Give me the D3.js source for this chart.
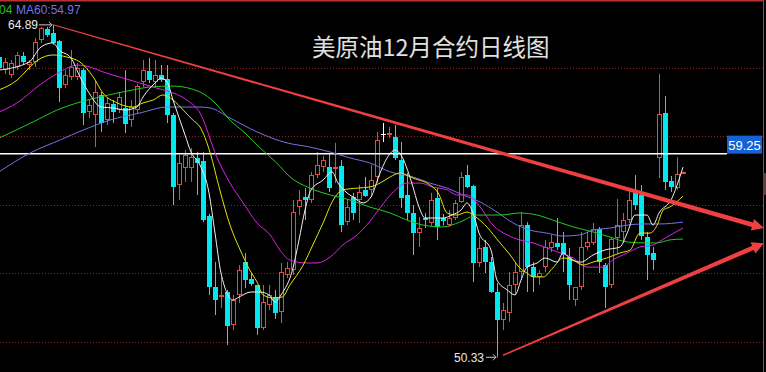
<!DOCTYPE html>
<html>
<head>
<meta charset="utf-8">
<script src="https://cdn.jsdelivr.net/npm/d3@7"></script>
<style>
html, body { margin: 0; padding: 0; background: #000; overflow: hidden; }
</style>
</head>
<body>
<script>
// daily OHLC, one value per candle (left to right)
var open = [63.48,62.91,62.69,63.04,63.53,63.13,63.26,64.23,64.71,64.53,
  64.18,62.26,62.61,62.61,62.91,61.07,60.94,61.82,60.72,61.42,
  61.16,61.25,60.72,61.16,62.39,62.87,62.39,62.69,62.52,60.94,
  57.88,58.62,58.62,59.06,58.93,56.52,53.41,52.97,53.19,51.74,
  53.06,54.50,53.76,53.50,51.61,52.62,52.97,52.31,53.93,54.15,
  56.91,57.35,57.22,58.31,58.66,58.66,58.58,58.71,56.25,57.35,
  57.22,57.66,57.66,58.23,60.11,60.07,59.98,58.97,57.44,56.65,
  55.77,56.43,56.21,57.31,56.43,56.12,56.43,57.13,58.31,57.83,
  54.46,55.16,54.50,53.19,51.96,52.27,53.50,54.06,56.12,54.28,
  53.85,54.28,55.12,55.34,55.34,54.72,52.84,53.41,55.16,55.34,
  55.95,54.37,53.50,55.55,55.82,56.34,57.53,57.44,55.60,54.90,
  59.06,61.03,58.05,57.74,58.40];
var high = [63.61,63.44,63.35,63.70,63.70,63.35,64.31,64.80,64.80,64.89,
  64.23,62.91,63.79,63.22,63.00,61.60,62.47,61.95,61.73,61.60,
  61.91,62.91,61.60,62.30,63.35,63.44,63.35,63.13,63.13,61.03,
  59.19,59.41,59.50,59.32,59.32,56.61,54.50,53.85,53.28,53.06,
  54.37,54.90,54.02,53.50,53.50,53.50,53.28,54.46,54.50,57.22,
  57.66,57.74,58.45,59.32,59.15,59.28,59.72,58.97,57.22,57.53,
  57.88,58.23,58.75,60.20,60.59,60.42,60.50,59.76,58.40,57.00,
  56.47,56.65,57.53,57.74,56.60,56.78,57.22,58.45,58.75,57.88,
  55.60,55.47,54.72,53.58,52.71,54.06,54.46,56.69,56.25,54.50,
  54.15,55.47,55.69,56.43,55.82,55.12,53.41,55.82,55.82,56.21,
  56.04,54.46,55.60,57.26,56.65,57.74,58.31,57.88,55.82,55.16,
  62.74,61.77,58.27,59.10,58.47];
var low = [62.83,62.74,62.56,62.91,63.13,62.91,63.04,64.10,64.36,64.01,
  61.51,62.12,62.47,62.47,60.50,60.81,59.54,60.20,60.50,60.59,
  61.03,60.15,60.42,60.99,62.17,62.34,62.17,62.39,60.59,57.00,
  57.22,58.01,58.01,57.44,56.25,53.06,52.18,52.49,50.87,51.52,
  52.71,53.36,53.45,51.31,51.52,52.40,52.01,51.83,53.80,53.93,
  56.56,56.34,57.09,58.18,58.45,57.57,57.96,55.82,56.12,56.34,
  56.21,57.35,57.35,57.96,59.76,59.93,58.97,56.87,56.34,54.81,
  55.16,55.99,56.04,55.47,56.10,56.04,56.34,57.09,57.74,53.63,
  54.28,54.02,53.15,50.33,51.52,51.88,53.06,53.71,53.19,53.19,
  53.50,54.06,54.94,55.03,54.06,52.84,52.58,53.28,55.03,55.25,
  54.02,52.49,53.36,54.90,55.34,56.21,56.78,55.47,53.71,54.15,
  58.18,57.66,57.57,57.66,58.38];
var close = [63.00,63.26,63.22,63.57,63.26,63.26,64.14,64.75,64.45,64.10,
  62.12,62.69,63.04,63.00,61.03,61.38,61.95,60.59,61.47,61.07,
  61.73,60.55,61.29,62.21,62.91,62.47,62.69,62.47,60.94,57.79,
  58.84,59.19,59.10,58.84,56.34,53.41,52.84,53.06,51.70,52.84,
  54.15,53.71,53.54,51.61,52.75,53.06,52.27,54.06,54.24,56.69,
  57.22,57.22,58.31,58.75,58.97,57.74,58.66,56.12,56.91,56.65,
  57.57,57.39,58.09,59.85,60.11,60.15,59.06,57.31,56.65,55.77,
  55.99,56.34,57.22,56.04,56.30,56.43,57.09,58.23,57.79,54.46,
  55.12,54.50,53.19,51.96,52.40,53.50,54.06,56.12,54.28,53.85,
  54.02,55.16,55.38,55.16,54.81,53.50,53.41,55.16,55.38,55.95,
  54.50,53.41,55.51,56.12,56.34,57.22,57.00,55.64,54.81,54.59,
  60.99,58.01,57.79,58.36,58.45];

// moving averages: [candle index, price]
var ma5 = [[0,62.91],[5,63.26],[7,63.92],[9,64.10],[10,63.79],[12,63.44],[13.5,62.61],[15,61.91],
  [17,61.29],[19,61.25],[21,61.16],[23,61.29],[24,61.73],[26,62.34],[27,62.56],[28,62.39],[29,61.60],
  [31,60.07],[32,59.32],[33.5,58.75],[35,57.53],[36,55.77],[37,54.02],[39,52.84],[40,52.97],[42,53.19],
  [43.5,53.19],[45,53.06],[46,52.75],[47,53.06],[49,54.24],[50,55.47],[51,56.78],[52,57.66],[54,58.09],
  [55.5,58.45],[56.5,57.96],[58,57.53],[59,57.35],[60.7,57.09],[62,57.35],[63.5,58.40],[65,59.19],
  [66,59.41],[67,59.19],[68.8,57.96],[70,56.91],[71,56.43],[72,56.43],[74,56.43],[75.5,56.56],[77,56.78],
  [78,57.09],[79,56.65],[80,55.77],[82,55.03],[83,53.71],[84.7,53.28],[86,53.06],[87,53.71],[88,54.28],
  [89.7,54.46],[91,54.68],[93,54.50],[94,54.90],[95.5,54.59],[97,54.50],[99,54.81],[101,55.03],
  [103.5,55.16],[104.7,55.77],[106,56.56],[108,56.56],[109,56.12],[110,56.65],[112,57.22],[114,58.66]];
var ma10 = [[0,62.04],[3,62.47],[5,63.00],[6.5,63.35],[9,63.57],[11.3,63.48],[13.5,63.26],[15.7,62.61],
  [17.3,61.91],[19.7,61.47],[22.3,61.29],[24,61.47],[25.7,61.60],[27.3,61.82],[29,61.60],[30.7,61.16],
  [32.3,60.72],[33.5,60.42],[35.2,59.28],[36.8,57.66],[38.5,56.12],[40.2,55.03],[41.8,54.15],[43,53.63],
  [44,53.06],[45.7,52.93],[47.2,52.97],[48.5,53.50],[50.7,54.37],[52.3,55.25],[54,56.21],[55.7,57.22],
  [57.3,57.66],[59.7,57.74],[61.8,57.79],[63.5,57.96],[65.2,58.23],[66.8,58.40],[69,58.18],[71.8,57.88],
  [73.2,57.53],[74.7,56.65],[76.3,56.56],[78,56.69],[79.7,56.43],[81.3,56.04],[83.5,55.34],[85.2,54.81],
  [86.8,54.24],[88,54.02],[89,53.85],[90.7,53.85],[92.3,54.24],[94,54.68],[95.7,54.59],[97.3,54.37],
  [99,54.50],[101.3,54.68],[103.5,54.90],[105.2,55.03],[106.8,55.77],[108.5,55.77],[109.7,56.12],
  [110.7,56.78],[111.8,56.91],[114,57.39]];
var ma20 = [[0,61.07],[3,61.47],[6.8,62.26],[10.2,62.83],[13,63.13],[15.2,63.04],[17.3,62.83],[20.7,62.56],
  [23.5,62.34],[26.3,62.12],[29,61.91],[31.3,61.60],[33.5,61.03],[36.3,59.10],[38.5,57.96],[40.7,57.09],
  [43,56.21],[45.2,55.69],[46.8,55.03],[48.5,54.59],[51.3,54.46],[53,54.46],[55.2,54.72],[57.3,55.25],
  [59.7,55.69],[61.3,56.12],[63.5,56.87],[65.7,57.57],[68,57.96],[70.2,57.96],[72.3,57.79],[74.7,57.66],
  [76.3,57.44],[78,57.44],[80.2,56.91],[82.3,56.12],[84.7,55.69],[86.8,55.47],[89,55.34],[91.3,55.12],
  [93.5,54.90],[95.7,54.68],[98,54.28],[100.7,54.28],[102.3,54.59],[104.7,54.90],[106.8,55.16],
  [109,55.25],[111.3,55.60],[114,55.99]];
var ma30 = [[0,59.93],[5.7,60.64],[9.7,61.16],[13.5,61.51],[16.8,61.73],[22.3,62.04],[25.2,62.17],
  [29,62.21],[33.5,61.95],[36,61.47],[38.5,60.72],[41,60.15],[43.5,59.50],[46.3,58.84],[48.5,58.23],
  [51.8,57.74],[55.2,57.44],[58.5,57.22],[61.8,56.91],[65.2,56.65],[68,56.34],[70.7,56.12],[74,56.04],
  [76.8,56.25],[79.7,56.56],[83.5,56.56],[86.8,56.65],[89.7,56.56],[92.3,56.34],[95.7,56.04],[99,55.82],
  [101.8,55.60],[104.7,55.38],[107.3,55.34],[109.7,55.34],[111.8,55.47],[114,55.51]];
var ma60 = [[0,58.45],[5.2,59.28],[10.2,59.85],[14,60.28],[18.5,60.72],[23.5,61.03],[28,61.29],
  [33.5,61.29],[35.2,61.25],[38.5,60.81],[43,60.20],[48,59.72],[51.8,59.54],[55.2,59.32],[58.5,59.06],
  [61.8,58.84],[65.2,58.45],[69,58.23],[71.8,57.96],[74.7,57.74],[77.3,57.44],[80.2,57.13],[83,56.69],
  [85.7,56.21],[88.5,55.90],[91.3,55.77],[94,55.64],[96.8,55.69],[99,55.90],[101.8,55.99],[104.7,56.12],
  [107.3,56.17],[110.2,56.17],[114,56.25]];

var gridPrices = [51, 54, 57, 60, 63];
var linePrice = 59.25;
var highMark = [9, 64.89];
var lowMark = [83, 50.33];
// hand drawn arrows: [index, price] start and end
var trendFrom = [[9, 64.89], [84, 50.42]];
var trendTo = [[127.5, 55.99], [127.5, 55.33]];
var title = "美原油12月合约日线图";

var width = 766, height = 372;
var upColor = "#e64a3c", downColor = "#00e8f0";

var svg = d3.select("body").append("svg")
    .attr("width", width)
    .attr("height", height)
    .style("display", "block");

svg.append("rect").attr("width", width).attr("height", height).attr("fill", "#000");

var xscale = d3.scaleLinear().domain([0, 114]).range([-1, 683]);
var yscale = d3.scaleLinear().domain([51, 63]).range([342, 68]);

// dotted grid
svg.append("g").selectAll("line")
    .data(gridPrices)
    .join("line")
    .attr("x1", 0).attr("x2", 763)
    .attr("y1", function(d) { return Math.floor(yscale(d)) + 0.5; })
    .attr("y2", function(d) { return Math.floor(yscale(d)) + 0.5; })
    .attr("stroke", "#8a2020")
    .attr("stroke-dasharray", "1,2");

// frame
svg.append("rect").attr("x", 0).attr("y", 0).attr("width", 763).attr("height", 1.5).attr("fill", "#b83232");
svg.append("line").attr("x1", 763.5).attr("x2", 763.5).attr("y1", 0).attr("y2", height)
    .attr("stroke", "#c83232");
svg.append("rect").attr("x", 763).attr("y", 173).attr("width", 3).attr("height", 22).attr("fill", "#5a4040");

// candles
var idx = d3.range(open.length);
var candles = svg.append("g");
idx.forEach(function(i) {
    var cx = xscale(i);
    var up = close[i] > open[i], flat = close[i] === open[i];
    var col = flat ? "#ffffff" : (up ? upColor : downColor);
    candles.append("line")
        .attr("x1", cx + 0.5).attr("x2", cx + 0.5)
        .attr("y1", yscale(high[i])).attr("y2", yscale(low[i]))
        .attr("stroke", col);
    var top = Math.round(yscale(Math.max(open[i], close[i])));
    var bot = Math.round(yscale(Math.min(open[i], close[i])));
    if (flat) {
        candles.append("line")
            .attr("x1", cx - 2).attr("x2", cx + 3)
            .attr("y1", top + 0.5).attr("y2", top + 0.5)
            .attr("stroke", col);
    } else if (up) {
        candles.append("rect")
            .attr("x", cx - 1.5).attr("y", top + 0.5)
            .attr("width", 4).attr("height", Math.max(bot - top - 1, 1))
            .attr("fill", "#000").attr("stroke", col);
    } else {
        candles.append("rect")
            .attr("x", cx - 2).attr("y", top)
            .attr("width", 5).attr("height", Math.max(bot - top, 1))
            .attr("fill", col);
    }
});

// 59.25 horizontal line
svg.append("line")
    .attr("x1", 0).attr("x2", 727)
    .attr("y1", yscale(linePrice)).attr("y2", yscale(linePrice))
    .attr("stroke", "#ffffff").attr("stroke-width", 1.5);
svg.append("rect")
    .attr("x", 727).attr("y", yscale(linePrice) - 18)
    .attr("width", 35).attr("height", 18)
    .attr("fill", "#1462d6");
svg.append("text")
    .attr("x", 744.5).attr("y", yscale(linePrice) - 4)
    .attr("text-anchor", "middle")
    .attr("font-family", "'Liberation Sans', Arial, sans-serif")
    .attr("font-size", 13)
    .attr("fill", "#ffffff")
    .text(linePrice.toFixed(2));

// moving averages
var maLine = d3.line()
    .x(function(d) { return xscale(d[0]); })
    .y(function(d) { return yscale(d[1]); })
    .curve(d3.curveMonotoneX);
var maSeries = [
    {data: ma60, color: "#7474e6"},
    {data: ma30, color: "#22cc22"},
    {data: ma20, color: "#e020e0"},
    {data: ma10, color: "#e6e600"},
    {data: ma5, color: "#f2f2f2"}
];
svg.append("g").selectAll("path")
    .data(maSeries)
    .join("path")
    .attr("d", function(d) { return maLine(d.data); })
    .attr("fill", "none")
    .attr("stroke", function(d) { return d.color; })
    .attr("stroke-width", 1);

// tapered arrows
function arrowPath(from, to, w0, w1) {
    var x0 = xscale(from[0]), y0 = yscale(from[1]);
    var x1 = xscale(to[0]), y1 = yscale(to[1]);
    var dx = x1 - x0, dy = y1 - y0, len = Math.hypot(dx, dy);
    var ux = dx / len, uy = dy / len, nx = -uy, ny = ux;
    var head = 12, hw = 6;
    var bx = x1 - ux * head, by = y1 - uy * head;
    var pts = [
        [x0 + nx * w0, y0 + ny * w0], [bx + nx * w1, by + ny * w1], [bx + nx * hw, by + ny * hw],
        [x1, y1],
        [bx - nx * hw, by - ny * hw], [bx - nx * w1, by - ny * w1], [x0 - nx * w0, y0 - ny * w0]
    ];
    return "M" + pts.join("L") + "Z";
}
svg.append("g").selectAll("path")
    .data(d3.range(trendFrom.length))
    .join("path")
    .attr("d", function(k) { return arrowPath(trendFrom[k], trendTo[k], k === 0 ? 0.5 : 0.7, 2.3); })
    .attr("fill", "#ee4040");

// high / low marks
var labelFont = "'Liberation Sans', Arial, sans-serif";
function mark(m, textEnd, arrowStart, arrowEnd) {
    var y = yscale(m[1]);
    svg.append("text")
        .attr("x", textEnd).attr("y", y + 4.5)
        .attr("text-anchor", "end")
        .attr("font-family", labelFont).attr("font-size", 12)
        .attr("fill", "#e8e8e8")
        .text(m[1].toFixed(2));
    svg.append("path")
        .attr("d", "M" + arrowStart + "," + y + "H" + arrowEnd +
            "M" + (arrowEnd - 3) + "," + (y - 3) + "L" + arrowEnd + "," + y + "L" + (arrowEnd - 3) + "," + (y + 3))
        .attr("fill", "none").attr("stroke", "#c8c8c8");
}
mark(highMark, xscale(highMark[0]) - 15, xscale(highMark[0]) - 14, xscale(highMark[0]) - 1);
mark(lowMark, xscale(lowMark[0]) - 13, xscale(lowMark[0]) - 11, xscale(lowMark[0]) - 1);

// header
svg.append("text")
    .attr("x", -1).attr("y", 14)
    .attr("font-family", labelFont).attr("font-size", 12)
    .attr("fill", "#22c022")
    .text("04");
svg.append("text")
    .attr("x", 16).attr("y", 14)
    .attr("font-family", labelFont).attr("font-size", 12)
    .attr("fill", "#7474e6")
    .text("MA60:54.97");

// title
svg.append("text")
    .attr("x", 312).attr("y", 56)
    .attr("font-family", "'Noto Sans CJK SC', sans-serif")
    .attr("font-size", 23.5)
    .attr("fill", "#e0e0e0")
    .text(title);
</script>
</body>
</html>
